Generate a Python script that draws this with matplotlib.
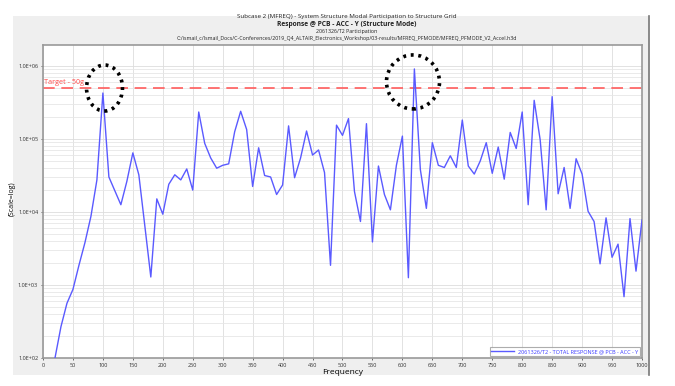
import numpy as np
import matplotlib
matplotlib.use("Agg")
import matplotlib.pyplot as plt
from matplotlib.patches import Ellipse, Rectangle
from matplotlib.ticker import FixedLocator, LogLocator, NullFormatter

plt.rcParams['font.family'] = ['Open Sans', 'DejaVu Sans']

# data (frequency in Hz, response as log10)
freq = [20, 30, 40, 50, 60, 70, 80, 90, 100, 110, 130, 140, 150, 160, 180, 190,
        200, 210, 220, 230, 240, 250, 260, 270, 280, 290, 300, 310, 320, 330,
        340, 350, 360, 370, 380, 390, 400, 410, 420, 430, 440, 450, 460, 470,
        480, 490, 500, 510, 520, 530, 540, 550, 560, 570, 580, 590, 600, 610,
        620, 630, 640, 650, 660, 670, 680, 690, 700, 710, 720, 730, 740, 750,
        760, 770, 780, 790, 800, 810, 820, 830, 840, 850, 860, 870, 880, 890,
        900, 910, 920, 930, 940, 950, 960, 970, 980, 990, 1000]
response_log10 = [2.0, 2.43, 2.75, 2.94, 3.27, 3.58, 3.94, 4.44, 5.63, 4.48, 4.10,
                  4.42, 4.81, 4.51, 3.11, 4.18, 3.97, 4.38, 4.51, 4.44, 4.59, 4.30,
                  5.37, 4.94, 4.74, 4.60, 4.64, 4.66, 5.10, 5.38, 5.13, 4.35, 4.88,
                  4.50, 4.48, 4.24, 4.37, 5.18, 4.47, 4.74, 5.11, 4.78, 4.85, 4.54,
                  3.27, 5.19, 5.05, 5.28, 4.28, 3.87, 5.21, 3.59, 4.63, 4.24, 4.03,
                  4.64, 5.04, 3.10, 5.96, 4.58, 4.05, 4.95, 4.64, 4.61, 4.77, 4.61,
                  5.26, 4.63, 4.52, 4.70, 4.95, 4.53, 4.89, 4.45, 5.09, 4.87, 5.37,
                  4.10, 5.53, 4.99, 4.03, 5.58, 4.25, 4.61, 4.05, 4.73, 4.52, 4.01,
                  3.87, 3.29, 3.92, 3.38, 3.56, 2.84, 3.91, 3.19, 3.89]
target = 5.0e5
y_ticks = [1e2, 1e3, 1e4, 1e5, 1e6]
y_labels = ["1.0E+02", "1.0E+03", "1.0E+04", "1.0E+05", "1.0E+06"]
x_ticks = list(range(0, 1001, 50))

title_lines = [
    "Subcase 2 (MFREQ) - System Structure Modal Participation to Structure Grid",
    "Response @ PCB - ACC - Y (Structure Mode)",
    "2061326/T2 Participation",
    "C:/ismail_c/Ismail_Docs/C-Conferences/2019_Q4_ALTAIR_Electronics_Workshop/03-results/MFREQ_PFMODE/MFREQ_PFMODE_V2_Accel.h3d",
]
legend_label = "2061326/T2 - TOTAL RESPONSE @ PCB - ACC - Y"

response = 10 ** np.array(response_log10)

fig = plt.figure(figsize=(6.75, 3.86), dpi=100, facecolor="white")

# gray panel behind the plot
fig.patches.append(Rectangle((0.0193, 0.0285), 0.9422, 0.93, transform=fig.transFigure,
                             facecolor="#efefef", edgecolor="none", zorder=-2))
fig.lines.append(plt.Line2D([0.9615, 0.9615], [0.0285, 0.9585], transform=fig.transFigure,
                            color="#777777", lw=1.2))

ax = fig.add_axes([0.0637, 0.0725, 0.8874, 0.8109])
ax.set_facecolor("white")

ax.plot(freq, response, color="#5a5aff", lw=1.0, label=legend_label, zorder=3)
ax.axhline(target, color="#ff5c5c", lw=1.2, dashes=(7, 4), zorder=2)
ax.text(2, target * 1.06, "Target - 50g", color="#ff4a4a", fontsize=5.2,
        va="bottom", ha="left")

ax.set_yscale("log")
ax.set_xlim(0, 1000)
ax.set_ylim(1e2, 1.94e6)
ax.yaxis.set_major_locator(FixedLocator(y_ticks))
ax.set_yticklabels(y_labels)
ax.yaxis.set_minor_locator(LogLocator(base=10, subs=np.arange(2, 10)))
ax.yaxis.set_minor_formatter(NullFormatter())
ax.set_xticks(x_ticks)
ax.set_xticklabels([str(v) for v in x_ticks])
ax.tick_params(axis="both", which="major", labelsize=4, length=1.5, width=0.5,
               colors="#333333", pad=2)
ax.tick_params(axis="y", which="minor", length=0)

ax.grid(True, which="major", color="#dddddd", lw=0.6)
ax.grid(True, which="minor", axis="y", color="#e6e6e6", lw=0.6)
ax.set_axisbelow(True)
for s in ax.spines.values():
    s.set_color("#999999")
    s.set_linewidth(1.2)

ax.set_xlabel("Frequency", fontsize=6, labelpad=1)
ax.set_ylabel("(Scale=log)", fontsize=5)
ax.yaxis.set_label_coords(-0.045, 0.51)

# dotted circles marking the peaks
for cx, cy, w, h in [(0.1027, 0.8626, 0.060, 0.147), (0.6177, 0.882, 0.0885, 0.1725)]:
    ax.add_patch(Ellipse((cx, cy), w, h, transform=ax.transAxes, fill=False,
                         edgecolor="black", lw=2.6, linestyle=(0, (0.8, 1.3)),
                         zorder=5, clip_on=False))

leg = ax.legend(loc="lower right", fontsize=4, frameon=True, fancybox=False,
                borderpad=0.3, handlelength=4, borderaxespad=0.4, labelcolor="#3a3aff")
leg.get_frame().set_edgecolor("#999999")
leg.get_frame().set_linewidth(0.8)

# stacked titles
ys = [0.956, 0.937, 0.919, 0.901]
sizes = [4.5, 4.8, 3.8, 3.8]
for i, (txt, yy, fs) in enumerate(zip(title_lines, ys, sizes)):
    fig.text(0.514, yy, txt, ha="center", va="center", fontsize=fs,
             fontweight="bold" if i == 1 else "normal", color="#222222")

fig.savefig("out.png", dpi=100, facecolor="white")
